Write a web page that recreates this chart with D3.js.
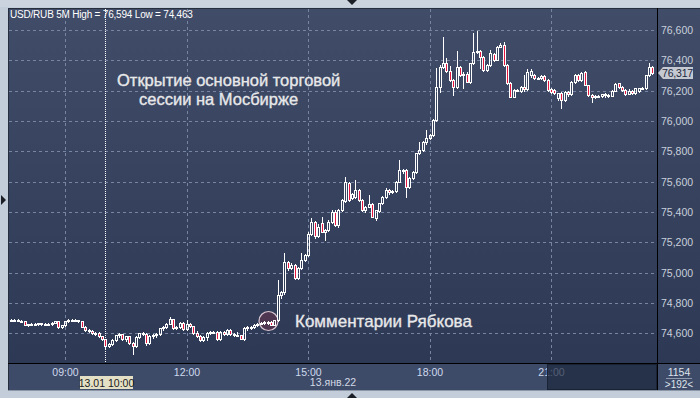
<!DOCTYPE html>
<html>
<head>
<meta charset="utf-8">
<script src="https://cdn.jsdelivr.net/npm/d3@7"></script>
<style>
  body { margin: 0; background: #c3ccd9; }
  svg { display: block; font-family: "Liberation Sans", Arial, sans-serif; }
</style>
</head>
<body>
<svg id="chart" width="700" height="398"></svg>
<script>
// USD/RUB 5M, 13.01.22, candles from 07:40 every 5 minutes
var startTime = "07:40";
var stepMinutes = 5;

var open = [
  74.684,74.690,74.687,74.683,74.678,74.656,74.661,74.664,74.660,74.667,
  74.662,74.664,74.659,74.670,74.678,74.640,74.655,74.680,74.690,74.686,
  74.688,74.680,74.642,74.622,74.616,74.600,74.604,74.582,74.560,74.515,
  74.530,74.558,74.588,74.595,74.560,74.580,74.535,74.515,74.578,74.600,
  74.598,74.534,74.585,74.592,74.596,74.632,74.640,74.664,74.692,74.632,
  74.640,74.668,74.626,74.662,74.646,74.600,74.580,74.556,74.574,74.602,
  74.608,74.610,74.562,74.608,74.596,74.625,74.596,74.590,74.590,74.562,
  74.636,74.642,74.640,74.655,74.664,74.668,74.674,74.676,74.656,74.686,
  74.855,74.870,75.072,75.030,75.050,74.965,75.030,75.084,75.117,75.258,
  75.336,75.240,75.325,75.270,75.280,75.336,75.402,75.315,75.413,75.470,
  75.590,75.490,75.500,75.545,75.480,75.413,75.435,75.455,75.360,75.405,
  75.457,75.501,75.545,75.530,75.540,75.600,75.677,75.677,75.567,75.622,
  75.666,75.787,75.809,75.860,75.885,75.907,76.006,76.226,76.358,76.380,
  76.330,76.270,76.226,76.358,76.303,76.312,76.260,76.380,76.457,76.462,
  76.424,76.336,76.369,76.440,76.405,76.490,76.501,76.369,76.248,76.160,
  76.204,76.195,76.226,76.212,76.300,76.305,76.282,76.285,76.298,76.270,
  76.210,76.204,76.150,76.182,76.138,76.193,76.175,76.259,76.303,76.270,
  76.325,76.237,76.171,76.160,76.165,76.168,76.176,76.170,76.168,76.200,
  76.248,76.226,76.204,76.180,76.200,76.186,76.195,76.215,76.215,76.303,76.358
];
var high = [
  74.695,74.694,74.692,74.688,74.680,74.664,74.668,74.668,74.670,74.670,
  74.668,74.668,74.672,74.682,74.682,74.658,74.684,74.696,74.694,74.692,
  74.690,74.682,74.646,74.628,74.620,74.608,74.606,74.585,74.565,74.535,
  74.562,74.592,74.600,74.598,74.585,74.582,74.540,74.582,74.605,74.606,
  74.600,74.590,74.596,74.600,74.636,74.646,74.668,74.710,74.696,74.648,
  74.672,74.672,74.690,74.666,74.650,74.614,74.590,74.580,74.606,74.612,
  74.616,74.618,74.614,74.612,74.628,74.628,74.602,74.606,74.592,74.640,
  74.648,74.650,74.660,74.670,74.672,74.680,74.680,74.680,74.690,74.951,
  74.880,75.128,75.080,75.062,75.060,75.035,75.128,75.125,75.265,75.358,
  75.340,75.318,75.369,75.285,75.345,75.410,75.410,75.420,75.485,75.633,
  75.600,75.525,75.611,75.550,75.485,75.440,75.512,75.460,75.415,75.460,
  75.505,75.556,75.550,75.548,75.605,75.743,75.685,75.685,75.630,75.672,
  75.790,75.863,75.870,75.940,75.915,76.010,76.347,76.369,76.556,76.413,
  76.365,76.275,76.462,76.365,76.320,76.320,76.385,76.578,76.594,76.468,
  76.430,76.375,76.468,76.450,76.495,76.512,76.523,76.375,76.255,76.210,
  76.212,76.230,76.303,76.340,76.345,76.312,76.290,76.300,76.305,76.275,
  76.218,76.210,76.185,76.190,76.196,76.198,76.265,76.310,76.312,76.320,
  76.330,76.240,76.175,76.170,76.172,76.180,76.182,76.175,76.206,76.248,
  76.252,76.230,76.210,76.208,76.206,76.218,76.220,76.222,76.305,76.380,76.365
];
var low = [
  74.680,74.684,74.678,74.674,74.652,74.650,74.655,74.656,74.656,74.658,
  74.655,74.655,74.656,74.666,74.636,74.636,74.650,74.676,74.682,74.680,
  74.676,74.640,74.618,74.610,74.596,74.590,74.578,74.556,74.505,74.508,
  74.525,74.552,74.575,74.555,74.552,74.530,74.463,74.510,74.570,74.590,
  74.523,74.530,74.570,74.578,74.592,74.625,74.636,74.660,74.628,74.628,
  74.636,74.624,74.620,74.640,74.596,74.574,74.552,74.548,74.555,74.596,
  74.600,74.558,74.556,74.590,74.590,74.592,74.582,74.580,74.560,74.558,
  74.620,74.630,74.632,74.648,74.660,74.662,74.660,74.652,74.652,74.680,
  74.830,74.860,75.020,75.025,74.955,74.958,75.025,75.075,75.110,75.250,
  75.230,75.236,75.265,75.215,75.275,75.325,75.310,75.300,75.405,75.465,
  75.475,75.485,75.495,75.475,75.405,75.400,75.430,75.365,75.350,75.400,
  75.450,75.495,75.520,75.525,75.535,75.595,75.660,75.501,75.560,75.615,
  75.660,75.780,75.800,75.850,75.878,75.900,76.000,76.193,76.350,76.325,
  76.265,76.171,76.220,76.295,76.215,76.255,76.248,76.375,76.450,76.347,
  76.330,76.330,76.360,76.398,76.400,76.485,76.365,76.245,76.155,76.155,
  76.195,76.190,76.200,76.205,76.290,76.278,76.275,76.280,76.265,76.200,
  76.185,76.175,76.140,76.084,76.130,76.168,76.170,76.250,76.265,76.265,
  76.235,76.168,76.127,76.150,76.155,76.160,76.158,76.158,76.165,76.195,
  76.220,76.200,76.174,76.176,76.180,76.180,76.190,76.210,76.210,76.295,76.310
];
var close = [
  74.690,74.687,74.683,74.678,74.656,74.661,74.664,74.660,74.667,74.662,
  74.664,74.659,74.670,74.678,74.640,74.655,74.680,74.690,74.686,74.688,
  74.680,74.642,74.622,74.616,74.600,74.604,74.582,74.560,74.515,74.530,
  74.558,74.588,74.595,74.560,74.580,74.535,74.515,74.578,74.600,74.598,
  74.534,74.585,74.592,74.596,74.632,74.640,74.664,74.692,74.632,74.640,
  74.668,74.626,74.662,74.646,74.600,74.580,74.556,74.574,74.602,74.608,
  74.610,74.562,74.608,74.596,74.625,74.596,74.590,74.584,74.562,74.636,
  74.642,74.640,74.655,74.664,74.668,74.674,74.666,74.656,74.686,74.855,
  74.870,75.072,75.030,75.050,74.965,75.030,75.084,75.117,75.258,75.336,
  75.240,75.300,75.270,75.280,75.336,75.402,75.315,75.413,75.479,75.600,
  75.480,75.520,75.545,75.480,75.413,75.432,75.455,75.370,75.410,75.457,
  75.501,75.545,75.530,75.540,75.600,75.677,75.668,75.567,75.622,75.666,
  75.787,75.809,75.860,75.885,75.907,76.006,76.226,76.358,76.380,76.330,
  76.270,76.226,76.358,76.303,76.312,76.260,76.380,76.457,76.462,76.424,
  76.336,76.369,76.446,76.405,76.490,76.501,76.369,76.248,76.160,76.204,
  76.200,76.226,76.212,76.325,76.330,76.282,76.285,76.298,76.270,76.204,
  76.193,76.182,76.182,76.138,76.193,76.175,76.259,76.303,76.270,76.314,
  76.237,76.171,76.160,76.165,76.168,76.176,76.170,76.168,76.200,76.243,
  76.226,76.204,76.178,76.200,76.186,76.215,76.215,76.218,76.303,76.358,76.317
];

var priceTicks = [74.6, 74.8, 75.0, 75.2, 75.4, 75.6, 75.8, 76.0, 76.2, 76.4, 76.6];
var timeTicks = ["09:00", "12:00", "15:00", "18:00", "21:00"];
var cursorTime = "10:00";
var lastPrice = 76.317;

var width = 700, height = 398;
var plotLeft = 8, plotRight = 657, plotTop = 8, plotBottom = 363;

var parseTime = d3.timeParse("%H:%M");
var t0 = parseTime(startTime);
var times = open.map((d, i) => d3.timeMinute.offset(t0, i * stepMinutes));
var candles = open.map((o, i) => ({
  t: times[i], o: o, h: high[i], l: low[i], c: close[i]
}));

var x = d3.scaleTime()
  .domain([t0, times[times.length - 1]])
  .range([11, 652.25]);
var y = d3.scaleLinear().domain([74.6, 76.6]).range([333.3, 30]);

var ru = d3.formatLocale({ decimal: ",", thousands: " ", grouping: [3], currency: ["", ""] });
var fmtPrice = ru.format(".3f");

var svg = d3.select("#chart");
var defs = svg.append("defs");
var grad = defs.append("linearGradient").attr("id", "bg")
  .attr("x1", 0).attr("y1", 0).attr("x2", 0).attr("y2", 1);
grad.append("stop").attr("offset", "0%").attr("stop-color", "#404c68");
grad.append("stop").attr("offset", "100%").attr("stop-color", "#2c3853");

// frame
svg.append("rect").attr("width", width).attr("height", height).attr("fill", "#c3ccd9");
svg.append("rect").attr("x", 0).attr("y", 0).attr("width", width).attr("height", 7).attr("fill", "#cbd3df");
svg.append("rect").attr("x", plotLeft).attr("y", plotTop)
  .attr("width", width - plotLeft).attr("height", 390 - plotTop)
  .attr("fill", "url(#bg)");
// bottom axis bar
svg.append("rect").attr("x", plotLeft).attr("y", plotBottom)
  .attr("width", width - plotLeft).attr("height", 390 - plotBottom)
  .attr("fill", "#3e4b68");
svg.append("line").attr("x1", plotLeft + 0.5).attr("x2", plotLeft + 0.5)
  .attr("y1", plotTop).attr("y2", 390).attr("stroke", "#262d3c");
svg.append("line").attr("x1", plotLeft).attr("x2", width)
  .attr("y1", plotTop + 0.5).attr("y2", plotTop + 0.5).attr("stroke", "#262d3c");
svg.append("line").attr("x1", plotLeft).attr("x2", width)
  .attr("y1", 390.5).attr("y2", 390.5).attr("stroke", "#8c97a8");

// small scroll arrows
svg.append("path").attr("d", "M347,0 L357,0 L352,5 Z").attr("fill", "#1c1f26");
svg.append("path").attr("d", "M347,398 L357,398 L352,393 Z").attr("fill", "#1c1f26");
svg.append("path").attr("d", "M1,195 L1,205 L6,200 Z").attr("fill", "#1c1f26");

// grid
var grid = svg.append("g").attr("stroke", "#7784a2").attr("stroke-dasharray", "3,3")
  .attr("shape-rendering", "crispEdges");
grid.selectAll(".hg").data(priceTicks).enter().append("line")
  .attr("x1", plotLeft + 1).attr("x2", plotRight)
  .attr("y1", (d) => Math.round(y(d)) + 0.5).attr("y2", (d) => Math.round(y(d)) + 0.5);
grid.selectAll(".vg").data(timeTicks).enter().append("line")
  .attr("x1", (d) => Math.round(x(parseTime(d))) + 0.5)
  .attr("x2", (d) => Math.round(x(parseTime(d))) + 0.5)
  .attr("y1", plotTop + 1).attr("y2", plotBottom);

// cursor line at 10:00
var cx0 = Math.round(x(parseTime(cursorTime))) + 0.5;
svg.append("line").attr("x1", cx0).attr("x2", cx0)
  .attr("y1", plotTop + 1).attr("y2", plotBottom)
  .attr("stroke", "#ffffff").attr("stroke-dasharray", "1,1");

// annotation circle (behind candles)
svg.append("circle").attr("cx", x(parseTime("14:00")) + 1).attr("cy", 321).attr("r", 9.5)
  .attr("fill", "#5a3650").attr("fill-opacity", 0.75)
  .attr("stroke", "#dcc8d4").attr("stroke-width", 1.2);

// candles
var cg = svg.append("g").attr("shape-rendering", "crispEdges");
candles.forEach((d) => {
  var px = Math.round(x(d.t));
  var top = Math.round(y(Math.max(d.o, d.c)));
  var bot = Math.round(y(Math.min(d.o, d.c)));
  if (bot - top < 1) bot = top + 1;
  var yh = Math.round(y(Math.max(d.h, d.o, d.c)));
  var yl = Math.round(y(Math.min(d.l, d.o, d.c)));
  if (yh < top) cg.append("line").attr("x1", px + 0.5).attr("x2", px + 0.5)
    .attr("y1", yh).attr("y2", top).attr("stroke", "#fff");
  if (yl > bot) cg.append("line").attr("x1", px + 0.5).attr("x2", px + 0.5)
    .attr("y1", bot + 1).attr("y2", yl + 1).attr("stroke", "#fff");
  cg.append("rect")
    .attr("x", px - 0.5).attr("y", top + 0.5)
    .attr("width", 2).attr("height", bot - top)
    .attr("fill", d.c < d.o ? "#e5163f" : "none")
    .attr("stroke", "#fff").attr("stroke-width", 1);
});

// separators
svg.append("line").attr("x1", plotRight + 0.5).attr("x2", plotRight + 0.5)
  .attr("y1", plotTop).attr("y2", 390).attr("stroke", "#000");
svg.append("line").attr("x1", plotLeft).attr("x2", width)
  .attr("y1", plotBottom + 0.5).attr("y2", plotBottom + 0.5).attr("stroke", "#000");

// price axis
var yAxis = svg.append("g").attr("transform", `translate(${plotRight},0)`)
  .call(d3.axisRight(y).tickValues(priceTicks).tickFormat(fmtPrice).tickSize(0).tickPadding(4));
yAxis.select(".domain").remove();
yAxis.selectAll("text").attr("fill", "#c9d0dc").style("font-size", "10.5px");

// time axis
var xAxis = svg.append("g").attr("transform", `translate(0,${plotBottom + 3})`)
  .call(d3.axisBottom(x).tickValues(timeTicks.map(parseTime))
    .tickFormat(d3.timeFormat("%H:%M")).tickSize(0));
xAxis.select(".domain").remove();
xAxis.selectAll("text").attr("fill", "#cfdaee").style("font-size", "10.5px");

svg.append("text").attr("x", 333).attr("y", 386).attr("text-anchor", "middle")
  .attr("fill", "#d2d9e6").style("font-size", "10.5px").text("13.янв.22");

// scroll thumb overlay
svg.append("rect").attr("x", 547.5).attr("y", 364.5).attr("width", 109).attr("height", 25)
  .attr("fill", "#1d283d").attr("fill-opacity", 0.7).attr("stroke", "#1a2233");

// cursor date label
svg.append("rect").attr("x", 80).attr("y", 376).attr("width", 53).attr("height", 13)
  .attr("fill", "#e4e0c6");
svg.append("text").attr("x", 106.5).attr("y", 386.5).attr("text-anchor", "middle")
  .attr("fill", "#1b1b1b").style("font-size", "10.5px").text("13.01 10:00");

// bar counter
svg.append("text").attr("x", 679).attr("y", 376).attr("text-anchor", "middle")
  .attr("fill", "#dfe4ec").style("font-size", "10.5px").text("1154");
svg.append("line").attr("x1", 666).attr("x2", 692).attr("y1", 378.5).attr("y2", 378.5)
  .attr("stroke", "#8e99ad");
svg.append("text").attr("x", 679).attr("y", 388).attr("text-anchor", "middle")
  .attr("fill", "#dfe4ec").style("font-size", "10px").text(">192<");

// last price tag
var ly = Math.round(y(lastPrice));
svg.append("path")
  .attr("d", `M658,${ly} L663,${ly - 6} L693,${ly - 6} L693,${ly + 6} L663,${ly + 6} Z`)
  .attr("fill", "#c5c9d1");
svg.append("text").attr("x", 662).attr("y", ly + 4).attr("fill", "#1c2840")
  .style("font-size", "10.5px").style("letter-spacing", "-0.2px").text(fmtPrice(lastPrice));

// header
svg.append("text").attr("x", 10).attr("y", 18).attr("fill", "#ffffff")
  .style("font-size", "10px").style("letter-spacing", "-0.2px")
  .text("USD/RUB 5M High = 76,594 Low = 74,463");

// annotations
function note(tx, ty, size, label) {
  svg.append("text").attr("x", tx).attr("y", ty)
    .attr("fill", "#e8e8ea").attr("stroke", "#e8e8ea").attr("stroke-width", 0.35)
    .style("font-size", size + "px").text(label);
}
note(117, 86, 16.5, "Открытие основной торговой");
note(139, 105, 16.5, "сессии на Мосбирже");
note(295, 327, 17, "Комментарии Рябкова");
</script>
</body>
</html>
